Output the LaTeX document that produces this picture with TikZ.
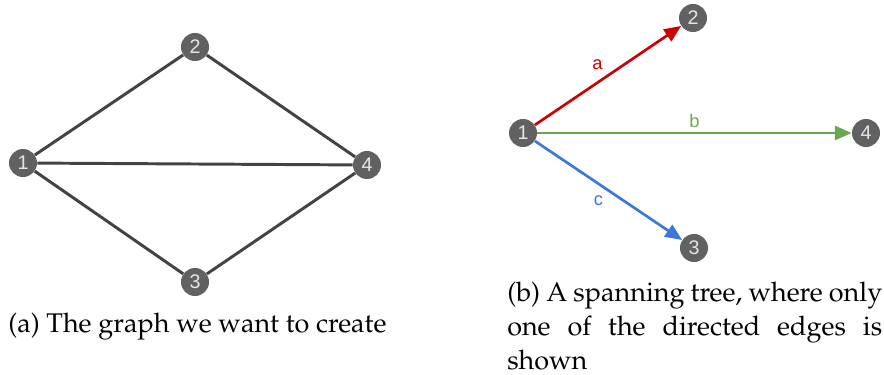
\documentclass[tikz,border=0pt]{standalone}
\usepackage[T1]{fontenc}
\usepackage{fontspec}
\newfontfamily\nodefont{Liberation Sans}
\newcommand{\capfont}{\fontencoding{T1}\fontfamily{ppl}\fontsize{19.2}{24}\selectfont}
\usetikzlibrary{arrows.meta}
\definecolor{vertexgrey}{HTML}{616161}
\definecolor{digitgrey}{HTML}{E6E6E6}
\definecolor{edgegrey}{HTML}{434343}
\definecolor{edgered}{HTML}{CC0000}
\definecolor{edgegreen}{HTML}{6AA84F}
\definecolor{edgeblue}{HTML}{3C78D8}
\begin{document}
\begin{tikzpicture}[x=0.025cm, y=-0.025cm,
    vertex/.style = {circle, fill=vertexgrey, text=digitgrey, minimum size=0.7cm, inner sep=0pt, font=\nodefont\fontsize{14}{14}\selectfont},
    plain/.style = {edgegrey, line width=2.1pt},
    tree/.style = {line width=1.9pt, -{Triangle[length=12pt, width=10pt]}},
    lbl/.style = {font=\nodefont\fontsize{13}{13}\selectfont, inner sep=3pt},
    caption/.style = {inner sep=0pt, font=\capfont}]
    \useasboundingbox (0,0) rectangle (884,375);
    % (a) the graph
    \node [vertex] (L1) at (23,163) {1};
    \node [vertex] (L2) at (195,47) {2};
    \node [vertex] (L3) at (195,282) {3};
    \node [vertex] (L4) at (367,165) {4};
    \draw [plain] (L1) -- (L2);
    \draw [plain] (L2) -- (L4);
    \draw [plain] (L1) -- (L4);
    \draw [plain] (L1) -- (L3);
    \draw [plain] (L3) -- (L4);
    \node [caption, anchor=west] (capA) at (8,327) {(a) The graph we want to create};
    % (b) the spanning tree
    \node [vertex] (R1) at (523,133) {1};
    \node [vertex] (R2) at (693,18) {2};
    \node [vertex] (R3) at (694,248) {3};
    \node [vertex] (R4) at (866,133) {4};
    \draw [tree, edgered] (R1) -- node [lbl, midway, above left, text=edgered] {a} (R2);
    \draw [tree, edgegreen] (R1) -- node [lbl, midway, above, text=edgegreen] {b} (R4);
    \draw [tree, edgeblue] (R1) -- node [lbl, midway, below left, text=edgeblue] {c} (R3);
    \node [caption, anchor=north west, text width=375*0.025cm, align=justify] (capB) at (507,282) {(b) A spanning tree, where only one of the directed edges is shown};
\end{tikzpicture}
\end{document}
